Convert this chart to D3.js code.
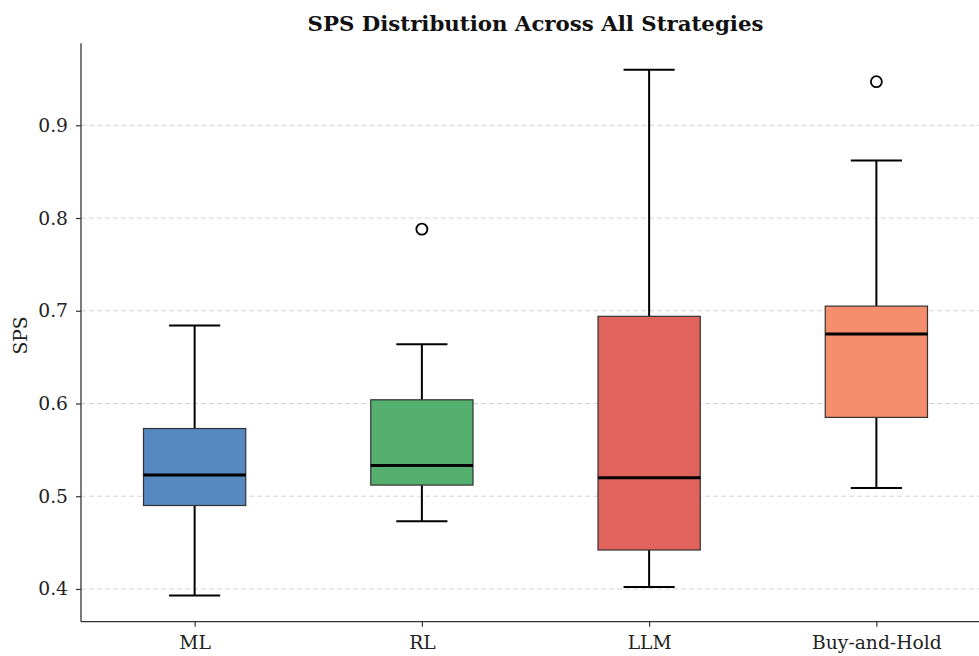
<!DOCTYPE html>
<html>
<head>
<meta charset="utf-8">
<script src="https://cdn.jsdelivr.net/npm/d3@7"></script>
<style>
  html, body { margin: 0; padding: 0; background: #fff; }
  svg { display: block; }
</style>
</head>
<body>
<svg id="chart" width="979" height="656"></svg>
<script>
// Strategy groups and their box-plot summaries
const categories = ["ML", "RL", "LLM", "Buy-and-Hold"];
const whiskerLow  = [0.393, 0.473, 0.402, 0.509];
const q1          = [0.490, 0.512, 0.442, 0.585];
const median      = [0.523, 0.533, 0.520, 0.675];
const q3          = [0.573, 0.604, 0.694, 0.705];
const whiskerHigh = [0.684, 0.664, 0.960, 0.862];
const outliers    = [[], [0.788], [], [0.947]];
const yTicks      = [0.4, 0.5, 0.6, 0.7, 0.8, 0.9];
const boxColors   = ["#5689c0", "#55b06f", "#e0635c", "#f48e6d"];

const svg = d3.select("#chart");
const plot = { left: 81, right: 990, top: 43.3, bottom: 621.7 };
const serif = "'DejaVu Serif', serif";

// position scale: groups at 1..n, axis spans 0.5 .. n+0.5
const x = d3.scaleLinear().domain([0.5, categories.length + 0.5]).range([plot.left, plot.right]);
const y = d3.scaleLinear().domain([0.3647, 0.9884]).range([plot.bottom, plot.top]);
const boxW = x(1.45) - x(1);
const capW = boxW / 2;

// dashed horizontal grid
svg.append("g").selectAll("line").data(yTicks).join("line")
  .attr("x1", plot.left).attr("x2", plot.right)
  .attr("y1", d => y(d)).attr("y2", d => y(d))
  .attr("stroke", "#cfcfcf").attr("stroke-width", 0.9)
  .attr("stroke-dasharray", "5,3");

const groups = svg.append("g").selectAll("g").data(categories).join("g");
const cx = i => x(i + 1);

// whiskers
groups.append("line")
  .attr("x1", (d, i) => cx(i)).attr("x2", (d, i) => cx(i))
  .attr("y1", (d, i) => y(q3[i])).attr("y2", (d, i) => y(whiskerHigh[i]))
  .attr("stroke", "#000").attr("stroke-width", 2);
groups.append("line")
  .attr("x1", (d, i) => cx(i)).attr("x2", (d, i) => cx(i))
  .attr("y1", (d, i) => y(q1[i])).attr("y2", (d, i) => y(whiskerLow[i]))
  .attr("stroke", "#000").attr("stroke-width", 2);
// caps
groups.append("line")
  .attr("x1", (d, i) => cx(i) - capW / 2).attr("x2", (d, i) => cx(i) + capW / 2)
  .attr("y1", (d, i) => y(whiskerHigh[i])).attr("y2", (d, i) => y(whiskerHigh[i]))
  .attr("stroke", "#000").attr("stroke-width", 2);
groups.append("line")
  .attr("x1", (d, i) => cx(i) - capW / 2).attr("x2", (d, i) => cx(i) + capW / 2)
  .attr("y1", (d, i) => y(whiskerLow[i])).attr("y2", (d, i) => y(whiskerLow[i]))
  .attr("stroke", "#000").attr("stroke-width", 2);

// boxes
groups.append("rect")
  .attr("x", (d, i) => cx(i) - boxW / 2)
  .attr("width", boxW)
  .attr("y", (d, i) => y(q3[i]))
  .attr("height", (d, i) => y(q1[i]) - y(q3[i]))
  .attr("fill", (d, i) => boxColors[i])
  .attr("stroke", "#333").attr("stroke-width", 1.2);

// medians
groups.append("line")
  .attr("x1", (d, i) => cx(i) - boxW / 2).attr("x2", (d, i) => cx(i) + boxW / 2)
  .attr("y1", (d, i) => y(median[i])).attr("y2", (d, i) => y(median[i]))
  .attr("stroke", "#000").attr("stroke-width", 3);

// outliers
groups.each(function (d, i) {
  d3.select(this).selectAll("circle").data(outliers[i]).join("circle")
    .attr("cx", cx(i)).attr("cy", v => y(v)).attr("r", 5.5)
    .attr("fill", "#fff").attr("stroke", "#000").attr("stroke-width", 1.8);
});

// axes
const yAxis = d3.axisLeft(y).tickValues(yTicks).tickFormat(d3.format(".1f")).tickSize(5).tickPadding(8);
const gy = svg.append("g").attr("transform", `translate(${plot.left},0)`).call(yAxis);
gy.select(".domain").attr("d", `M0,${plot.top}V${plot.bottom}`);

const xAxis = d3.axisBottom(x).tickValues(categories.map((c, i) => i + 1))
  .tickFormat((d, i) => categories[i]).tickSize(5).tickPadding(9);
const gx = svg.append("g").attr("transform", `translate(0,${plot.bottom})`).call(xAxis);
gx.select(".domain").attr("d", `M${plot.left},0H${plot.right}`);

[gx, gy].forEach(g => {
  g.select(".domain").attr("stroke", "#333").attr("stroke-width", 1.3);
  g.selectAll(".tick line").attr("stroke", "#333").attr("stroke-width", 1.2);
  g.selectAll(".tick text")
    .attr("fill", "#222")
    .style("font-family", serif)
    .style("font-size", "18.7px");
});

// title
svg.append("text")
  .attr("x", (plot.left + plot.right) / 2).attr("y", 31)
  .attr("text-anchor", "middle")
  .style("font-family", serif)
  .style("font-weight", "bold")
  .style("font-size", "21.3px")
  .attr("fill", "#111")
  .text("SPS Distribution Across All Strategies");

// y-axis label
svg.append("text")
  .attr("transform", `translate(27,${(plot.top + plot.bottom) / 2 + 3}) rotate(-90)`)
  .attr("text-anchor", "middle")
  .style("font-family", serif)
  .style("font-size", "18.7px")
  .attr("fill", "#222")
  .text("SPS");
</script>
</body>
</html>
